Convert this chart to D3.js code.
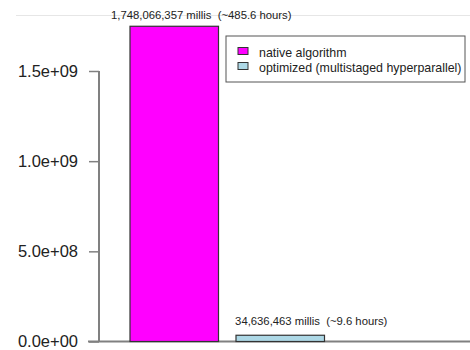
<!DOCTYPE html>
<html><head><meta charset="utf-8">
<script src="https://cdn.jsdelivr.net/npm/d3@7"></script>
<style>body{margin:0;background:#fff}svg{display:block}text{font-family:"Liberation Sans",Arial,sans-serif;white-space:pre}</style>
</head><body>
<script>
const categories = ["native algorithm", "optimized (multistaged hyperparallel)"];
const values = [1748066357, 34636463];
const barLabels = ["1,748,066,357 millis  (~485.6 hours)", "34,636,463 millis  (~9.6 hours)"];
const colors = ["#ff00ff", "#add8e6"];
const yTicks = [0, 5e8, 1e9, 1.5e9];
const yTickLabels = ["0.0e+00", "5.0e+08", "1.0e+09", "1.5e+09"];

const W = 470, H = 350;
const svg = d3.select("body").append("svg").attr("width", W).attr("height", H);

const y = d3.scaleLinear().domain([0, 1.5e9]).range([341.5, 71]);
const x = d3.scaleBand().domain(categories).range([130, 324.5]).paddingInner(0.165).paddingOuter(0);

// faint top line
svg.append("line").attr("x1", 16).attr("x2", W).attr("y1", 15.5).attr("y2", 15.5)
  .attr("stroke", "#e6e6e6").attr("stroke-width", 1);

// baseline
svg.append("line").attr("x1", 88).attr("x2", W).attr("y1", y(0)).attr("y2", y(0))
  .attr("stroke", "#808080").attr("stroke-width", 2);

// y axis
const yAxis = d3.axisLeft(y).tickValues(yTicks).tickFormat((d, i) => yTickLabels[i]).tickSize(10).tickPadding(11);
const ga = svg.append("g").attr("transform", "translate(99,0)").call(yAxis);
ga.select(".domain").attr("d", `M0,${y(1.5e9)}V${y(0)}`).attr("stroke", "#808080").attr("stroke-width", 2).attr("fill", "none");
ga.selectAll(".tick line").attr("stroke", "#808080").attr("stroke-width", 1.5);
ga.selectAll(".tick text").attr("font-size", 16.5).attr("fill", "#222").attr("font-family", "Liberation Sans, Arial, sans-serif");

// bars
svg.selectAll("rect.bar").data(values).enter().append("rect").attr("class", "bar")
  .attr("x", (d, i) => x(categories[i]))
  .attr("width", x.bandwidth())
  .attr("y", d => y(d))
  .attr("height", d => y(0) - y(d))
  .attr("fill", (d, i) => colors[i])
  .attr("stroke", "#333").attr("stroke-width", 1.2);

// bar labels
svg.selectAll("text.lbl").data(values).enter().append("text").attr("class", "lbl")
  .attr("x", (d, i) => x(categories[i]) + x.bandwidth() / 2 + (i === 0 ? 27 : 31))
  .attr("y", (d, i) => y(d) - (i === 0 ? 7.5 : 10))
  .attr("text-anchor", "middle")
  .attr("font-size", 11.3).attr("fill", "#222")
  .text((d, i) => barLabels[i]);

// legend
const lg = svg.append("g").attr("transform", "translate(226,36)");
lg.append("rect").attr("x", 0).attr("y", 0).attr("width", 239).attr("height", 46)
  .attr("fill", "#fff").attr("stroke", "#555").attr("stroke-width", 1);
categories.forEach((c, i) => {
  lg.append("rect").attr("x", 12).attr("y", 11.5 + i * 15).attr("width", 10).attr("height", 7)
    .attr("fill", colors[i]).attr("stroke", "#333").attr("stroke-width", 1);
  lg.append("text").attr("x", 33).attr("y", 20.5 + i * 15).attr("font-size", 12.4).attr("fill", "#222").text(c);
});
</script>
</body></html>
